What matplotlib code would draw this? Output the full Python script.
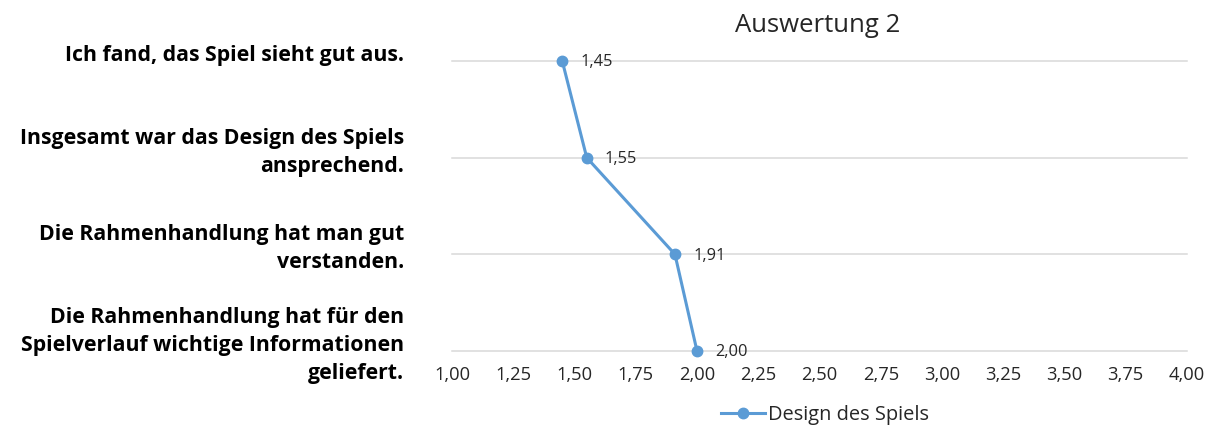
import matplotlib
matplotlib.use("Agg")
import matplotlib.pyplot as plt
from matplotlib.transforms import blended_transform_factory, offset_copy

plt.rcParams['font.family'] = ['Open Sans', 'DejaVu Sans']

statements = [
    "Ich fand, das Spiel sieht gut aus.",
    "Insgesamt war das Design des Spiels\nansprechend.",
    "Die Rahmenhandlung hat man gut\nverstanden.",
    "Die Rahmenhandlung hat für den\nSpielverlauf wichtige Informationen\ngeliefert.",
]
scores = [1.45, 1.55, 1.91, 2.00]
x_ticks = [1.00, 1.25, 1.50, 1.75, 2.00, 2.25, 2.50, 2.75, 3.00, 3.25, 3.50, 3.75, 4.00]
series_name = "Design des Spiels"
title = "Auswertung 2"

blue = "#5B9BD5"
grid = "#D9D9D9"
text_col = "#000000"

W, H = 1211, 432
fig = plt.figure(figsize=(W / 100, H / 100), dpi=100)
ax = fig.add_axes([452 / W, 81 / H, (1187 - 452) / W, (351 - 61) / H])

n = len(statements)
ypos = [n - 1 - i for i in range(n)]

for y in ypos:
    ax.axhline(y, color=grid, lw=1.1, zorder=1, clip_on=False)

line, = ax.plot(scores, ypos, color=blue, lw=2.2, marker='o', markersize=7.5,
                zorder=3, label=series_name, clip_on=False)

for xv, yv in zip(scores, ypos):
    ax.annotate(f"{xv:.2f}".replace('.', ','), (xv, yv), xytext=(13, -1),
                textcoords='offset points', va='center', ha='left',
                fontsize=11.8, color='#262626')

ax.set_xlim(x_ticks[0], x_ticks[-1])
ax.set_ylim(0, n - 1)
ax.set_xticks(x_ticks)
ax.set_xticklabels([f"{v:.2f}".replace('.', ',') for v in x_ticks], fontsize=13.2, color='#262626')
ax.set_yticks([])
ax.tick_params(axis='x', length=0, pad=11)
for s in ax.spines.values():
    s.set_visible(False)

# statement labels, right-aligned left of the plot area
trans = blended_transform_factory(fig.transFigure, ax.transData)
trans = offset_copy(trans, fig=fig, x=0, y=5.5, units='dots')
for label, y in zip(statements, ypos):
    ax.text(404 / W, y, label, transform=trans, ha='right', va='center',
            fontsize=15.3, fontweight='bold', color=text_col, linespacing=1.42,
            clip_on=False)

fig.text(818 / W, 1 - 25 / H, title, ha='center', va='center', fontsize=18.5, color='#262626')

fig.legend(handles=[line], loc='center', bbox_to_anchor=(825 / W, 1 - 415 / H),
           frameon=False, fontsize=14.4, handlelength=2.2, handletextpad=0.2,
           labelcolor='#262626')

fig.savefig("out.png", dpi=100, facecolor='white')
